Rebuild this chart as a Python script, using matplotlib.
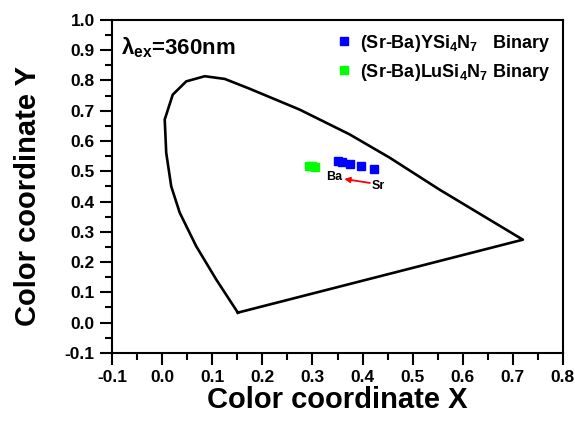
import matplotlib.pyplot as plt
from matplotlib.ticker import MultipleLocator

plt.rcParams['font.family'] = ['Liberation Sans', 'DejaVu Sans']
plt.rcParams['font.weight'] = 'bold'
plt.rcParams['mathtext.fontset'] = 'custom'
plt.rcParams['mathtext.rm'] = 'Liberation Sans:bold'
plt.rcParams['mathtext.it'] = 'Liberation Sans:bold'
plt.rcParams['mathtext.bf'] = 'Liberation Sans:bold'

# spectral locus
locus_x = [0.151, 0.108, 0.068, 0.035, 0.018, 0.008, 0.005, 0.021, 0.048,
           0.085, 0.125, 0.174, 0.274, 0.374, 0.454, 0.554, 0.720, 0.151]
locus_y = [0.033, 0.142, 0.252, 0.363, 0.450, 0.561, 0.671, 0.753, 0.797,
           0.814, 0.805, 0.773, 0.704, 0.622, 0.545, 0.439, 0.274, 0.033]

# (Sr-Ba)YSi4N7
y_x = [0.351, 0.359, 0.375, 0.397, 0.422]
y_y = [0.533, 0.531, 0.524, 0.518, 0.508]

# (Sr-Ba)LuSi4N7
lu_x = [0.294, 0.300, 0.306]
lu_y = [0.517, 0.516, 0.514]

fig = plt.figure(figsize=(5.75, 4.33), dpi=100)
ax = fig.add_axes([0.195, 0.185, 0.784, 0.769])

ax.plot(locus_x, locus_y, color='black', lw=1.9)
ax.plot(y_x, y_y, 's', color='#0000ff', ms=5.5, ls='none',
        label=r'(Sr-Ba)YSi$_4$N$_7$   Binary')
ax.plot(lu_x, lu_y, 's', color='#00ff00', ms=5.5, ls='none',
        label=r'(Sr-Ba)LuSi$_4$N$_7$ Binary')

ax.annotate('', xy=(0.358, 0.476), xytext=(0.420, 0.460),
            arrowprops=dict(arrowstyle='-|>', color='red', lw=1.3,
                            mutation_scale=8))
ax.text(0.343, 0.480, 'Ba', fontsize=9, fontweight='bold',
        ha='center', va='center')
ax.text(0.432, 0.451, 'Sr', fontsize=9, fontweight='bold',
        ha='center', va='center')

ax.text(-0.082, 0.885, r'$\lambda_{ex}$=360nm', fontsize=16,
        fontweight='bold', va='baseline')

ax.set_xlim(-0.1, 0.8)
ax.set_ylim(-0.1, 1.0)
ax.xaxis.set_major_locator(MultipleLocator(0.1))
ax.xaxis.set_minor_locator(MultipleLocator(0.05))
ax.yaxis.set_major_locator(MultipleLocator(0.1))
ax.yaxis.set_minor_locator(MultipleLocator(0.05))
ax.xaxis.set_major_formatter(plt.FuncFormatter(lambda v, p: f'{v:.1f}'))
ax.yaxis.set_major_formatter(plt.FuncFormatter(lambda v, p: f'{v:.1f}'))
ax.tick_params(which='major', direction='out', length=8.5, width=1.5,
               labelsize=12.5, pad=4)
ax.tick_params(which='minor', direction='out', length=5, width=1.5)
for s in ax.spines.values():
    s.set_linewidth(1.5)

ax.set_xlabel('Color coordinate X', fontsize=21, fontweight='bold')
ax.set_ylabel('Color coordinate Y', fontsize=21, fontweight='bold')
ax.xaxis.set_label_coords(0.5, -0.1)
ax.yaxis.set_label_coords(-0.155, 0.47)

ax.legend(loc='upper right', frameon=False, fontsize=13, handletextpad=0.4,
          handlelength=1.0, borderaxespad=0.3, labelspacing=0.45,
          markerscale=1.0)

fig.savefig('out.png', dpi=100)
